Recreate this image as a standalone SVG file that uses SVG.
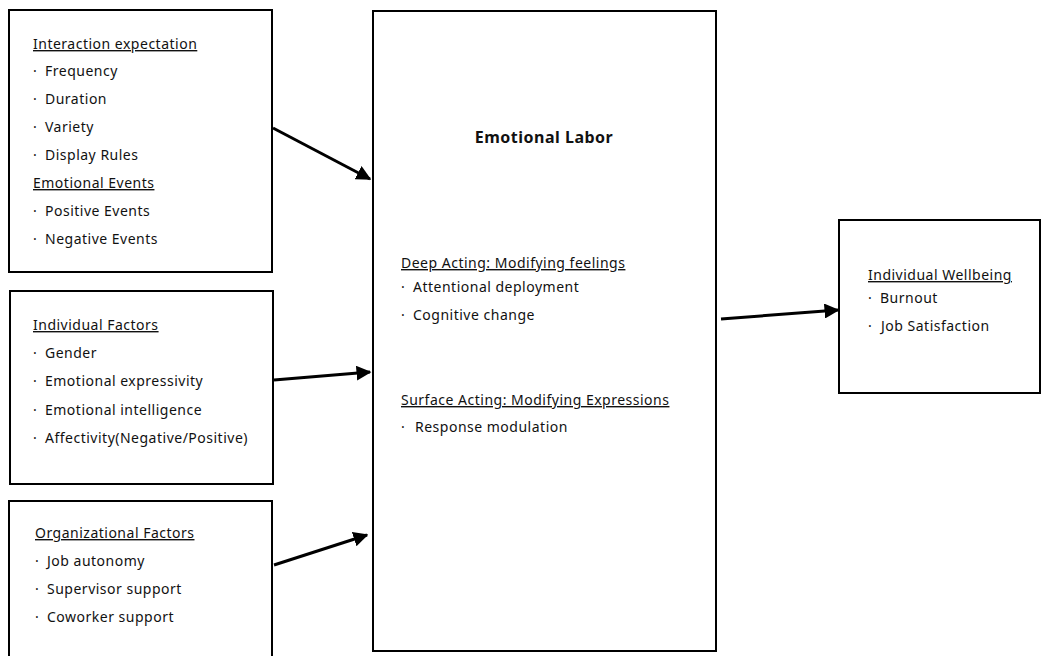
<svg xmlns="http://www.w3.org/2000/svg" width="1045" height="656" viewBox="0 0 1045 656">
<defs>
<style>
.box{fill:#fff;stroke:#000;stroke-width:2}
text{font-family:"Noto Sans","Open Sans",sans-serif;font-size:14px;letter-spacing:0.5px;fill:#111}
.h{text-decoration:underline}
.t{font-weight:bold;font-size:16px}
.c{stroke:#000;stroke-width:3;fill:none;marker-end:url(#ah)}
</style>
<marker id="ah" viewBox="0 0 10 10" refX="9" refY="5" markerWidth="5" markerHeight="5" orient="auto" markerUnits="strokeWidth">
<path d="M0,0 L10,5 L0,10 z" fill="#000"/>
</marker>
</defs>
<rect width="1045" height="656" fill="#fff"/>
<g id="interaction">
<rect class="box" x="9" y="10" width="263" height="262"/>
<text x="33" y="49" class="h">Interaction expectation</text>
<text x="33" y="76">·<tspan x="45">Frequency</tspan></text>
<text x="33" y="104">·<tspan x="45">Duration</tspan></text>
<text x="33" y="132">·<tspan x="45">Variety</tspan></text>
<text x="33" y="160">·<tspan x="45">Display Rules</tspan></text>
<text x="33" y="188" class="h">Emotional Events</text>
<text x="33" y="216">·<tspan x="45">Positive Events</tspan></text>
<text x="33" y="244">·<tspan x="45">Negative Events</tspan></text>
</g>
<g id="individual">
<rect class="box" x="10" y="291" width="263" height="193"/>
<text x="33" y="330" class="h">Individual Factors</text>
<text x="33" y="358">·<tspan x="45">Gender</tspan></text>
<text x="33" y="386">·<tspan x="45">Emotional expressivity</tspan></text>
<text x="33" y="415">·<tspan x="45">Emotional intelligence</tspan></text>
<text x="33" y="443">·<tspan x="45">Affectivity(Negative/Positive)</tspan></text>
</g>
<g id="organizational">
<rect class="box" x="9" y="501" width="263" height="160"/>
<text x="35" y="538" class="h">Organizational Factors</text>
<text x="35" y="566">·<tspan x="47">Job autonomy</tspan></text>
<text x="35" y="594">·<tspan x="47">Supervisor support</tspan></text>
<text x="35" y="622">·<tspan x="47">Coworker support</tspan></text>
</g>
<g id="emotional-labor">
<rect class="box" x="373" y="11" width="343" height="640"/>
<text x="544" y="143" class="t" text-anchor="middle">Emotional Labor</text>
<text x="401" y="268" class="h">Deep Acting: Modifying feelings</text>
<text x="401" y="292">·<tspan x="413">Attentional deployment</tspan></text>
<text x="401" y="320">·<tspan x="413">Cognitive change</tspan></text>
<text x="401" y="405" class="h">Surface Acting: Modifying Expressions</text>
<text x="401" y="432">·<tspan x="415">Response modulation</tspan></text>
</g>
<g id="wellbeing">
<rect class="box" x="839" y="220" width="201" height="173"/>
<text x="868" y="280" class="h">Individual Wellbeing</text>
<text x="868" y="303">·<tspan x="880">Burnout</tspan></text>
<text x="868" y="331">·<tspan x="881">Job Satisfaction</tspan></text>
</g>
<g id="connectors">
<line class="c" x1="273" y1="128" x2="370" y2="179"/>
<line class="c" x1="274" y1="380" x2="370" y2="372"/>
<line class="c" x1="274" y1="565" x2="367" y2="535"/>
<line class="c" x1="721" y1="319" x2="838" y2="310"/>
</g>
</svg>
